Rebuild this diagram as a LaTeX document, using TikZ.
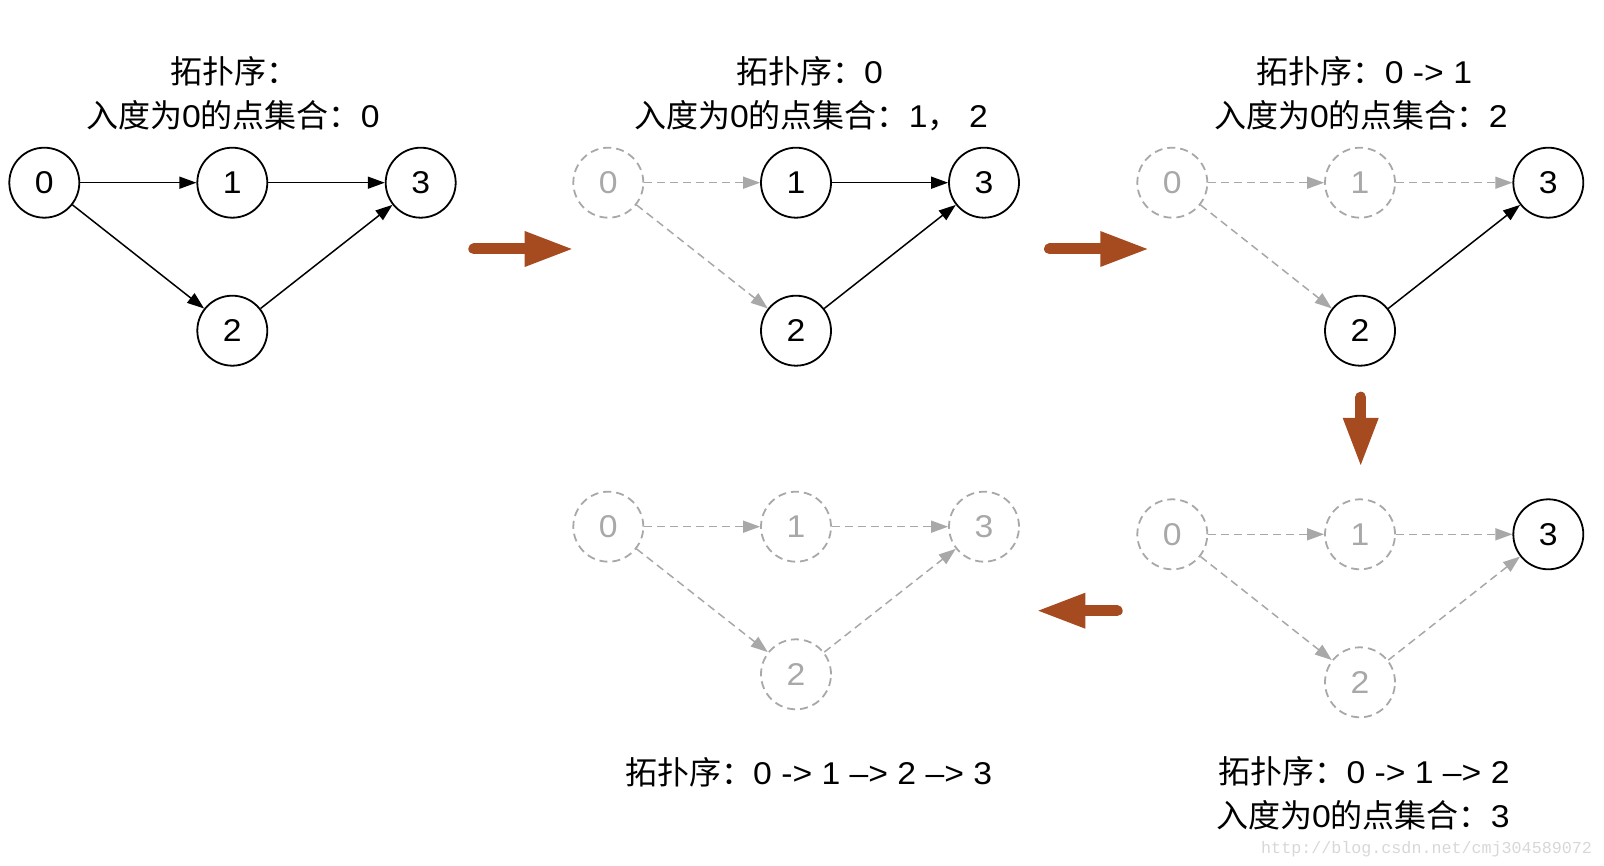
\documentclass[tikz,border=0pt]{standalone}
\usepackage{fontspec}
\setmainfont{Liberation Sans}[FakeStretch=1.07]
\newfontfamily\cjk{Noto Sans CJK SC}
\newfontfamily\wmfont{Liberation Mono}
\usetikzlibrary{arrows.meta}
\definecolor{ghostgray}{RGB}{168,168,168}
\definecolor{flowbrown}{RGB}{166,74,32}
\definecolor{wmgray}{RGB}{215,215,215}
\newcommand{\cj}[1]{{\cjk\fontsize{32}{38}\selectfont #1}}
\tikzset{
  vtx/.style={circle, draw=black, line width=1.8pt, minimum size=70pt, inner sep=0pt,
    font=\fontsize{31.5}{36}\selectfont, text=black},
  ghostvtx/.style={vtx, draw=ghostgray, dash pattern=on 8pt off 5pt, text=ghostgray},
  edg/.style={draw=black, line width=1.5pt, -{Triangle[length=17pt,width=12pt]}},
  ghostedg/.style={draw=ghostgray, line width=1.5pt, dash pattern=on 8pt off 5pt,
    -{Triangle[length=17pt,width=12pt]}},
  flow/.style={draw=flowbrown, line width=11pt, line cap=round,
    -{Triangle[length=47pt,width=36pt,line width=0pt]}},
  lbl/.style={anchor=base west, inner sep=0pt, font=\fontsize{31.5}{36}\selectfont},
}
\begin{document}
\begin{tikzpicture}[x=1pt,y=-1pt]
\useasboundingbox (0,0) rectangle (1604,866);

% Panel 1
\node[vtx] (a0) at (44.3,182.7) {0};
\node[vtx] (a1) at (232.3,182.7) {1};
\node[vtx] (a3) at (420.7,182.7) {3};
\node[vtx] (a2) at (232.3,330.7) {2};
\draw[edg] (a0) -- (a1);
\draw[edg] (a1) -- (a3);
\draw[edg] (a0) -- (a2);
\draw[edg] (a2) -- (a3);
\node[lbl] (t1a) at (170,83.3) {\cj{拓扑序：}};
\node[lbl] (t1b) at (86,127.3) {\cj{入度为}0\cj{的点集合：}0};

% Panel 2
\node[ghostvtx] (b0) at (608.3,182.7) {0};
\node[vtx] (b1) at (796,182.7) {1};
\node[vtx] (b3) at (984,182.7) {3};
\node[vtx] (b2) at (796,330.7) {2};
\draw[ghostedg] (b0) -- (b1);
\draw[ghostedg] (b0) -- (b2);
\draw[edg] (b1) -- (b3);
\draw[edg] (b2) -- (b3);
\node[lbl] (t2a) at (736,83.3) {\cj{拓扑序：}0};
\node[lbl] (t2b) at (634,127.3) {\cj{入度为}0\cj{的点集合：}1\cj{，} 2};

% Panel 3
\node[ghostvtx] (c0) at (1172.3,182.7) {0};
\node[ghostvtx] (c1) at (1360,182.7) {1};
\node[vtx] (c3) at (1548.3,182.7) {3};
\node[vtx] (c2) at (1360,330.7) {2};
\draw[ghostedg] (c0) -- (c1);
\draw[ghostedg] (c1) -- (c3);
\draw[ghostedg] (c0) -- (c2);
\draw[edg] (c2) -- (c3);
\node[lbl] (t3a) at (1256.7,83.3) {\cj{拓扑序：}0 -> 1};
\node[lbl] (t3b) at (1214,127.3) {\cj{入度为}0\cj{的点集合：}2};

% Panel 4 (bottom right)
\node[ghostvtx] (d0) at (1172.3,534.3) {0};
\node[ghostvtx] (d1) at (1360,534.3) {1};
\node[vtx] (d3) at (1548.3,534.3) {3};
\node[ghostvtx] (d2) at (1360,682.3) {2};
\draw[ghostedg] (d0) -- (d1);
\draw[ghostedg] (d1) -- (d3);
\draw[ghostedg] (d0) -- (d2);
\draw[ghostedg] (d2) -- (d3);
\node[lbl] (t4a) at (1218.3,783.3) {\cj{拓扑序：}0 -> 1 –> 2};
\node[lbl] (t4b) at (1216,827.3) {\cj{入度为}0\cj{的点集合：}3};

% Panel 5 (bottom middle)
\node[ghostvtx] (e0) at (608.3,526.7) {0};
\node[ghostvtx] (e1) at (796,526.7) {1};
\node[ghostvtx] (e3) at (984,526.7) {3};
\node[ghostvtx] (e2) at (796,674.3) {2};
\draw[ghostedg] (e0) -- (e1);
\draw[ghostedg] (e1) -- (e3);
\draw[ghostedg] (e0) -- (e2);
\draw[ghostedg] (e2) -- (e3);
\node[lbl] (t5a) at (625,784) {\cj{拓扑序：}0 -> 1 –> 2 –> 3};

% Flow arrows
\coordinate (f1s) at (473.8,249);
\coordinate (f1e) at (571.7,249);
\coordinate (f2s) at (1049.5,249);
\coordinate (f2e) at (1147.3,249);
\coordinate (f3s) at (1360.7,397.2);
\coordinate (f3e) at (1360.7,465);
\coordinate (f4s) at (1117.2,610.7);
\coordinate (f4e) at (1038.3,610.7);
\draw[flow] (f1s) -- (f1e);
\draw[flow] (f2s) -- (f2e);
\draw[flow] (f3s) -- (f3e);
\draw[flow] (f4s) -- (f4e);

% Watermark
\node[anchor=base west, inner sep=0pt, text=wmgray, font=\wmfont\fontsize{16.7}{20}\selectfont] (wm) at (1261,853) {http://blog.csdn.net/cmj304589072};
\end{tikzpicture}
\end{document}
